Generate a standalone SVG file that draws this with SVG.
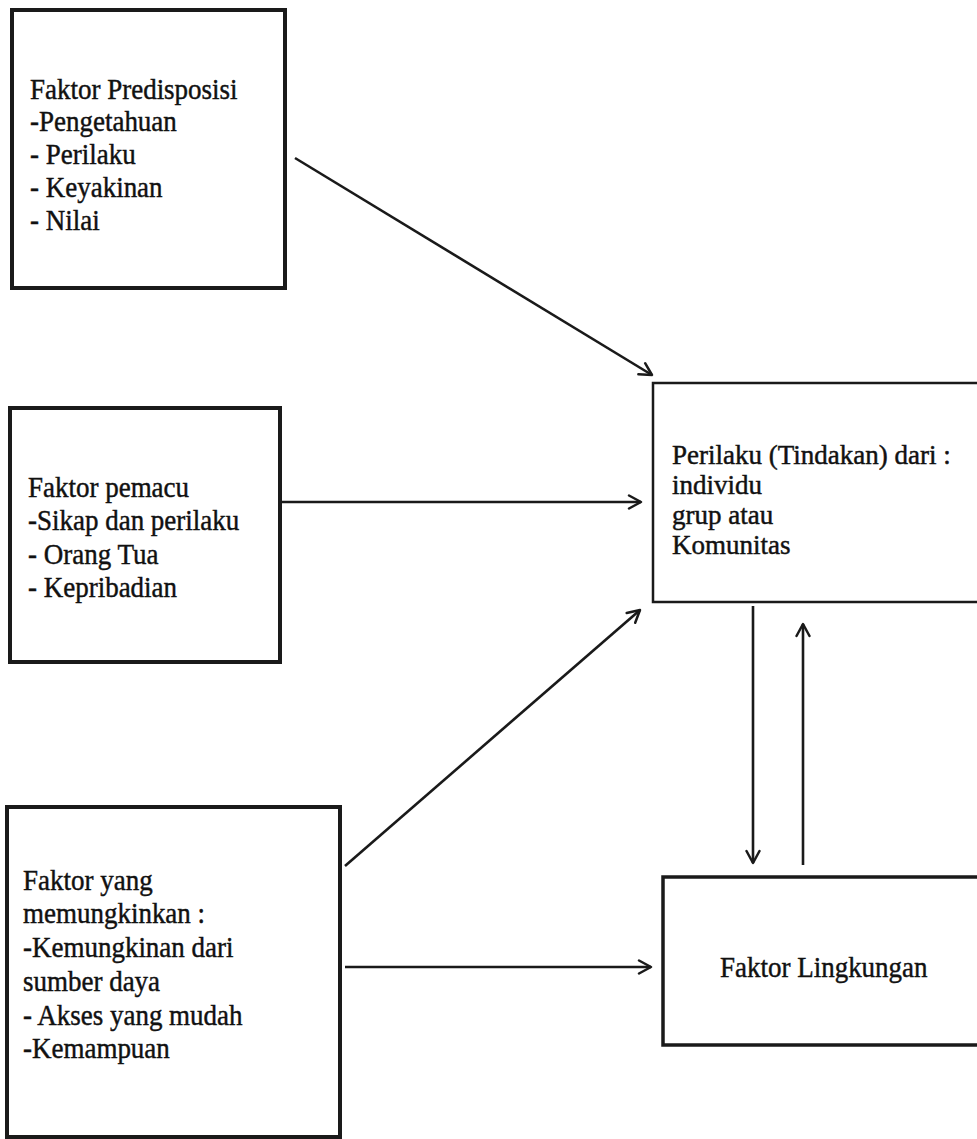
<svg xmlns="http://www.w3.org/2000/svg" width="977" height="1139" viewBox="0 0 977 1139">
  <style>
    .box { fill: #ffffff; stroke: #1a1a1a; }
    .thick { stroke-width: 4; }
    .thin { stroke-width: 2.5; }
    .mid { stroke-width: 3.5; }
    .lbl { font-family: "Liberation Serif", "Times New Roman", serif; font-size: 30px; fill: #111111; stroke: #111111; stroke-width: 0.45px; }
    .lbl.sm { font-size: 27px; }
    .conn { stroke: #1a1a1a; stroke-width: 2.6; fill: none; marker-end: url(#arrow); }
  </style>
  <defs>
    <marker id="arrow" viewBox="0 0 16 16" refX="14" refY="8" markerWidth="16" markerHeight="16" markerUnits="userSpaceOnUse" orient="auto">
      <path d="M2,1.5 L14,8 L2,14.5" fill="none" stroke="#1a1a1a" stroke-width="2.5" stroke-linecap="round" stroke-linejoin="round"/>
    </marker>
  </defs>
  <rect width="977" height="1139" fill="#ffffff"/>

  <!-- text blocks are narrowed horizontally to the typeset proportions -->
  <g id="predisposisi">
    <rect class="box thick" x="12" y="10" width="273" height="278"/>
    <g transform="translate(30,0) scale(0.9,1)">
      <text class="lbl" x="0" y="99">Faktor Predisposisi</text>
      <text class="lbl" x="0" y="131">-Pengetahuan</text>
      <text class="lbl" x="0" y="164">- Perilaku</text>
      <text class="lbl" x="0" y="197">- Keyakinan</text>
      <text class="lbl" x="0" y="230">- Nilai</text>
    </g>
  </g>

  <g id="pemacu">
    <rect class="box thick" x="10" y="408" width="270" height="254"/>
    <g transform="translate(28,0) scale(0.9,1)">
      <text class="lbl" x="0" y="497">Faktor pemacu</text>
      <text class="lbl" x="0" y="530">-Sikap dan perilaku</text>
      <text class="lbl" x="0" y="564">- Orang Tua</text>
      <text class="lbl" x="0" y="597">- Kepribadian</text>
    </g>
  </g>

  <g id="memungkinkan">
    <rect class="box thick" x="7" y="807" width="333" height="330"/>
    <g transform="translate(23,0) scale(0.9,1)">
      <text class="lbl" x="0" y="890">Faktor yang</text>
      <text class="lbl" x="0" y="923">memungkinkan :</text>
      <text class="lbl" x="0" y="957">-Kemungkinan dari</text>
      <text class="lbl" x="0" y="991">sumber daya</text>
      <text class="lbl" x="0" y="1025">- Akses yang mudah</text>
      <text class="lbl" x="0" y="1058">-Kemampuan</text>
    </g>
  </g>

  <g id="perilaku">
    <rect class="box thin" x="653" y="383" width="340" height="219"/>
    <g transform="translate(672,0)">
      <text class="lbl sm" x="0" y="464">Perilaku (Tindakan) dari :</text>
      <text class="lbl sm" x="0" y="494">individu</text>
      <text class="lbl sm" x="0" y="524">grup atau</text>
      <text class="lbl sm" x="0" y="554">Komunitas</text>
    </g>
  </g>

  <g id="lingkungan">
    <rect class="box mid" x="663" y="877" width="340" height="168"/>
    <g transform="translate(720,0) scale(0.9,1)">
      <text class="lbl" x="0" y="977">Faktor Lingkungan</text>
    </g>
  </g>

  <g id="connectors">
    <line class="conn" x1="295" y1="158" x2="652" y2="375"/>
    <line class="conn" x1="282" y1="502" x2="641" y2="502"/>
    <line class="conn" x1="345" y1="866" x2="640" y2="610"/>
    <line class="conn" x1="345" y1="967" x2="651" y2="967"/>
    <line class="conn" x1="753" y1="606" x2="753" y2="863"/>
    <line class="conn" x1="803" y1="865" x2="803" y2="624"/>
  </g>
</svg>
